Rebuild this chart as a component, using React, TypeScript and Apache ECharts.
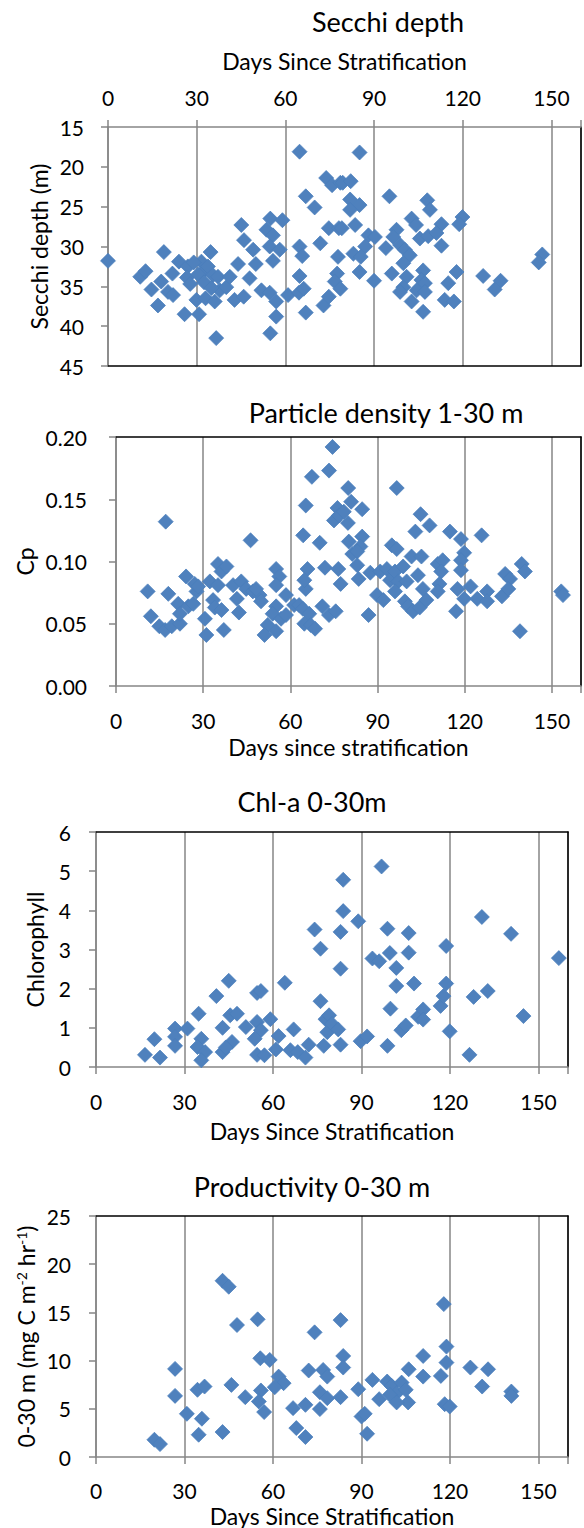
import React, { useEffect, useRef } from "react";
import * as echarts from "echarts";

// ---------- data (days since stratification, value) ----------
const dayTicks = [0, 30, 60, 90, 120, 150];

const secchiData: number[][] = [
  [0, 31.8], [10.9, 33.8], [12.7, 33.1], [18.9, 30.7], [14.7, 35.4], [16.9, 37.4], [18.0, 34.4],
  [20.3, 35.7], [22, 36.1], [21.8, 33.4], [24, 31.9], [27, 32.5], [26.7, 33.9], [27.8, 34.7],
  [25.9, 38.5], [30.8, 38.5], [29.9, 36.7], [31.6, 31.9], [34.7, 30.7], [32.1, 33.2], [33.8, 32.5],
  [35.5, 33.6], [37.2, 33.8], [33, 36.5], [36.1, 36.9], [37.8, 35.5], [40, 35.1], [41.2, 33.8],
  [36.6, 41.5], [42.8, 36.7], [44, 32.2], [45.9, 36.3], [47.9, 34.0], [45.1, 27.3], [46, 29.2],
  [49.1, 30.4], [50, 32.2], [51.9, 35.5], [54.7, 35.8], [56.9, 36.9], [56.9, 38.8], [54.9, 40.9],
  [53.6, 27.9], [54.9, 26.5], [55.8, 28.6], [59, 26.7], [54.7, 30.0], [55.8, 31.8], [58.1, 30.4],
  [60.9, 36.1], [64.6, 35.8], [64.8, 33.7], [66.2, 35.3], [66.9, 38.3], [64.8, 30.0], [65.7, 31.2],
  [64.8, 18.1], [66.9, 23.7], [69.9, 25.1], [71.8, 29.6], [73.8, 21.4], [75.8, 22.3], [78.6, 22.0],
  [74.7, 27.7], [78.1, 27.7], [77.8, 31.3], [72.9, 37.4], [74.7, 36.3], [77.5, 33.4], [76.7, 34.4],
  [78.6, 35.3], [30.5, 33.5], [32.5, 34.5], [35, 35.2], [29, 32],
  [85.1, 18.2], [79.4, 22.0], [82.1, 21.8], [81.9, 24.1], [85.1, 24.8], [81.9, 25.4], [95.2, 23.7],
  [108, 24.2], [108.9, 25.4], [119.9, 26.3], [118.8, 27.2], [102.7, 26.5], [104.2, 27.3], [112.8, 27.2],
  [79.1, 27.7], [83.6, 27.3], [88.1, 28.6], [90.3, 28.8], [97.6, 27.9], [96.5, 28.8], [105.5, 29.0],
  [108.3, 28.7], [111.1, 28.3], [94, 30.2], [98.8, 29.8], [100.4, 30.4], [102.1, 31.1], [99.9, 32.1],
  [87, 30.0], [83, 30.9], [85.5, 31.3], [112.8, 29.9], [85.1, 33.2], [96, 33.4], [90, 34.3],
  [101, 33.8], [99.9, 35.1], [106.6, 33.0], [106, 34.2], [107.2, 34.6], [98.8, 35.7], [102.7, 36.9],
  [104.4, 35.5], [107.2, 35.7], [106.6, 38.2], [115.1, 34.6], [117.9, 33.2], [113.9, 36.7], [117, 36.9],
  [126.9, 33.7], [132.8, 34.3], [130.8, 35.4], [146.9, 31.0], [145.7, 32.0],
];

const cpData: number[][] = [
  [17.1, 0.132], [46.3, 0.117], [10.9, 0.076], [12, 0.056], [18, 0.074], [14.9, 0.048], [16.9, 0.045],
  [19.2, 0.048], [22, 0.05], [21.4, 0.066], [22, 0.058], [24.9, 0.064], [26.6, 0.066], [27.7, 0.076],
  [24.1, 0.088], [27.1, 0.082], [28.3, 0.08], [30.6, 0.054], [31.1, 0.041], [32.3, 0.084], [33.4, 0.069],
  [35.1, 0.098], [36.3, 0.092], [38, 0.096], [34, 0.063], [36.3, 0.061], [37.1, 0.045], [35.1, 0.081],
  [40.3, 0.081], [43.1, 0.084], [41.6, 0.07], [42.3, 0.059], [44.8, 0.078], [47.1, 0.076], [49.4, 0.073],
  [48.2, 0.078], [49.9, 0.068], [55.1, 0.094], [56.2, 0.088], [55.1, 0.081], [58.5, 0.073], [55.1, 0.064],
  [53.9, 0.058], [56.8, 0.054], [58.5, 0.057], [52.2, 0.049], [51.1, 0.041], [55.1, 0.044], [61.3, 0.065],
  [63, 0.065], [65.3, 0.078], [64.3, 0.062], [66.5, 0.058], [64.8, 0.05], [67, 0.049], [68.5, 0.046],
  [65.9, 0.094], [64.8, 0.085], [64.4, 0.121], [65.3, 0.145], [67.4, 0.168], [73.3, 0.173], [74.5, 0.192],
  [70.1, 0.115], [71.9, 0.095], [71, 0.064], [73.3, 0.057], [75.6, 0.06], [76.2, 0.143], [75, 0.133],
  [76.7, 0.137], [76.5, 0.094], [77.3, 0.082],
  [79.9, 0.159], [80.9, 0.148], [78.4, 0.14], [79.8, 0.131], [84.7, 0.142], [96.6, 0.159], [80.1, 0.116],
  [84.7, 0.12], [84.1, 0.112], [81.3, 0.106], [83, 0.108], [83, 0.097], [83.5, 0.086], [87.5, 0.091],
  [86.9, 0.057], [89.8, 0.073], [92, 0.069], [90.9, 0.092], [93.2, 0.094], [94.3, 0.085], [96, 0.092],
  [98.8, 0.096], [97.1, 0.084], [94.9, 0.113], [96.6, 0.11], [96, 0.076], [99.4, 0.068], [100.5, 0.064],
  [102.2, 0.06], [104.5, 0.063], [106.8, 0.069], [100, 0.084], [101.7, 0.104], [105.1, 0.104], [103.9, 0.089],
  [105.6, 0.078], [103, 0.124], [104.8, 0.138], [107.9, 0.129], [110.7, 0.098], [112.4, 0.101], [111.9, 0.092],
  [111.3, 0.082], [110.7, 0.076], [114.9, 0.124], [118.7, 0.118], [119.8, 0.107], [118.7, 0.101], [118.7, 0.093],
  [117, 0.06], [117.5, 0.078], [119.8, 0.07], [122, 0.08], [125.8, 0.121], [124.3, 0.07], [127.7, 0.076],
  [127.7, 0.068], [132.8, 0.072], [133.9, 0.09], [135.6, 0.086], [135, 0.078], [139.6, 0.098], [140.7, 0.092],
  [139, 0.044], [153.2, 0.076], [153.8, 0.073],
];

const chlData: number[][] = [
  [16.6, 0.31], [19.8, 0.71], [21.7, 0.24], [26.8, 0.98], [26.8, 0.77], [26.8, 0.54], [31, 0.98],
  [34.8, 1.36], [35.7, 0.72], [34.4, 0.51], [37, 0.38], [35.7, 0.17], [40.8, 1.81], [42.9, 1.0],
  [45, 2.2], [45.5, 1.32], [47.8, 1.36], [42.9, 0.38], [46.1, 0.64], [44, 0.5], [50.8, 1.02],
  [54.6, 1.89], [55.9, 1.94], [54.6, 1.15], [55.9, 0.94], [53.8, 0.72], [59.1, 1.22], [54.6, 0.31],
  [57.1, 0.3], [61.9, 0.79], [64, 2.15], [61, 0.45], [67, 0.96], [65.9, 0.43], [68.4, 0.38],
  [71, 0.24], [72.1, 0.57], [74.1, 3.51], [76.1, 3.02], [76.1, 1.68], [77.2, 0.54], [77.8, 1.22],
  [79, 1.32], [78.4, 0.89], [80, 1.1],
  [83.8, 4.78], [96.8, 5.12], [83.8, 3.98], [82.9, 3.45], [88.9, 3.72], [82.9, 2.51], [82.1, 0.96],
  [82.9, 0.57], [89.7, 0.66], [91.9, 0.78], [93.7, 2.77], [96, 2.7], [98.8, 3.53], [99.6, 2.91],
  [101.8, 2.53], [106, 3.42], [106, 2.92], [101.8, 2.07], [107.8, 2.13], [98.8, 0.54], [99.8, 1.49],
  [103.5, 0.94], [105, 1.06], [109.2, 1.28], [110.9, 1.47], [110.9, 1.21], [116.8, 1.56], [117.8, 1.81],
  [118.7, 2.13], [118.7, 3.09], [119.9, 0.91], [126.6, 0.31], [128, 1.79], [132.8, 1.94], [130.8, 3.83],
  [140.7, 3.4], [144.9, 1.3], [156.9, 2.78],
];

const prodData: number[][] = [
  [19.8, 1.79], [21.7, 1.34], [26.8, 9.14], [26.8, 6.34], [30.8, 4.48], [34.4, 6.97], [36.8, 7.31],
  [35.9, 3.97], [34.8, 2.31], [42.9, 2.59], [42.9, 18.28], [45, 17.66], [47.8, 13.69], [45.9, 7.48],
  [50.6, 6.21], [54.8, 14.28], [55.7, 10.24], [58.9, 10.07], [55.9, 6.9], [55.2, 5.76], [57, 4.66],
  [61.9, 8.34], [63.6, 7.66], [60.6, 7.24], [66.8, 5.07], [71, 5.41], [67.9, 3.0], [71, 2.07],
  [72.1, 8.97], [74.1, 12.93], [77, 9.03], [78.4, 8.34], [75.9, 6.72], [78.4, 6.1], [75.9, 4.97],
  [82.9, 14.2], [83.8, 10.48], [83.8, 9.28], [82.9, 6.21], [88.9, 7.03], [90, 4.2], [91.1, 4.48],
  [91.9, 2.41], [93.7, 8.0], [96, 6.0], [98.7, 7.83], [100.2, 7.38], [101.9, 6.62], [103.6, 7.72],
  [105, 6.97], [105.8, 5.66], [99.6, 6.45], [101.9, 5.66], [106, 9.1], [110.9, 10.48], [110.9, 8.34],
  [116.9, 8.41], [117.9, 15.86], [118.8, 11.45], [118.8, 9.79], [118.2, 5.48], [119.9, 5.24],
  [126.9, 9.28], [132.9, 9.1], [130.9, 7.31], [140.8, 6.79], [140.8, 6.34],
];

const titles = ["Secchi depth", "Particle density 1-30 m", "Chl-a 0-30m", "Productivity 0-30 m"];
const xNames = ["Days Since Stratification", "Days since stratification", "Days Since Stratification", "Days Since Stratification"];
const yNames = ["Secchi depth (m)", "Cp", "Chlorophyll", "0-30 m (mg C m{sup|-2} hr{sup|-1})"];

// ---------- styling ----------
const FONT = 'Lato, "Open Sans", sans-serif';
const GRAY = "#868686";
const TICK_FS = 21;
const NAME_FS = 23;
const TITLE_FS = 27;

const grids = [
  { left: 108, top: 127, width: 473, height: 239 },
  { left: 116, top: 437, width: 470, height: 249 },
  { left: 96, top: 832, width: 472, height: 235 },
  { left: 96, top: 1216, width: 472, height: 241 },
];

const yRanges = [
  { min: 15, max: 45, interval: 5, inverse: true, fmt: (v: number) => String(v) },
  { min: 0, max: 0.2, interval: 0.05, inverse: false, fmt: (v: number) => v.toFixed(2) },
  { min: 0, max: 6, interval: 1, inverse: false, fmt: (v: number) => String(v) },
  { min: 0, max: 25, interval: 5, inverse: false, fmt: (v: number) => String(v) },
];

const xLabelMargin = [19, 23, 23, 22];
const xNameGap = [55, 49, 52, 47];
const yLabelMargin = [24, 29, 25, 25];
const yNameGap = [58, 80, 50, 59];
const titlePos = [
  [388, 21],
  [386, 412],
  [312, 801],
  [312, 1186],
];

const seriesData = [secchiData, cpData, chlData, prodData];

function buildOption() {
  const xAxis: any[] = [];
  const yAxis: any[] = [];
  const series: any[] = [];
  grids.forEach((g, i) => {
    const top = i === 0;
    xAxis.push({
      gridIndex: i,
      type: "value",
      position: top ? "top" : "bottom",
      min: 0,
      max: 160,
      interval: 30,
      name: xNames[i],
      nameLocation: "middle",
      nameGap: xNameGap[i],
      nameMoveOverlap: false,
      nameTextStyle: { fontFamily: FONT, fontSize: NAME_FS, color: "#000" },
      axisLine: { show: true, onZero: false, lineStyle: { color: GRAY, width: 1.5 } },
      axisTick: { show: true, length: 7, lineStyle: { color: GRAY, width: 1.5 } },
      axisLabel: {
        fontFamily: FONT,
        fontSize: TICK_FS,
        lineHeight: 22,
        color: "#000",
        margin: xLabelMargin[i],
        formatter: (v: number) => (dayTicks.indexOf(v) >= 0 ? String(v) : ""),
      },
      splitLine: { show: true, lineStyle: { color: GRAY, width: 1.5 } },
    });
    xAxis.push({
      gridIndex: i,
      type: "value",
      position: top ? "bottom" : "top",
      min: 0,
      max: 160,
      interval: 30,
      axisLine: { show: true, onZero: false, lineStyle: { color: "#000", width: 1.5 } },
      axisTick: { show: false },
      axisLabel: { show: false },
      splitLine: { show: false },
    });
    const yr = yRanges[i];
    yAxis.push({
      gridIndex: i,
      type: "value",
      position: "left",
      min: yr.min,
      max: yr.max,
      interval: yr.interval,
      inverse: yr.inverse,
      name: yNames[i],
      nameLocation: "middle",
      nameRotate: 90,
      nameGap: yNameGap[i],
      nameMoveOverlap: false,
      nameTextStyle: {
        fontFamily: FONT,
        fontSize: NAME_FS,
        color: "#000",
        rich: {
          sup: { fontFamily: FONT, fontSize: 14, color: "#000", verticalAlign: "top", lineHeight: 14 },
        },
      },
      axisLine: { show: true, onZero: false, lineStyle: { color: GRAY, width: 1.5 } },
      axisTick: { show: true, length: 7, lineStyle: { color: GRAY, width: 1.5 } },
      axisLabel: { fontFamily: FONT, fontSize: TICK_FS, color: "#000", margin: yLabelMargin[i], formatter: yr.fmt },
      splitLine: { show: false },
    });
    yAxis.push({
      gridIndex: i,
      type: "value",
      position: "right",
      min: yr.min,
      max: yr.max,
      interval: yr.interval,
      inverse: yr.inverse,
      axisLine: { show: true, onZero: false, lineStyle: { color: "#000", width: 1.5 } },
      axisTick: { show: false },
      axisLabel: { show: false },
      splitLine: { show: false },
    });
    series.push({
      type: "scatter",
      xAxisIndex: i * 2,
      yAxisIndex: i * 2,
      data: seriesData[i],
      symbol: "diamond",
      symbolSize: 15,
      itemStyle: { color: "#4F81BD", borderColor: "#4A7EBB", borderWidth: 0.75, opacity: 1 },
      z: 5,
    });
  });

  const graphic = titles.map((t, i) => ({
    type: "text",
    x: titlePos[i][0],
    y: titlePos[i][1],
    style: {
      text: t,
      fontFamily: FONT,
      fontSize: TITLE_FS,
      fill: "#000",
      align: "center",
      verticalAlign: "middle",
    },
  }));

  return {
    animation: false,
    backgroundColor: "#fff",
    grid: grids.map((g) => ({ ...g, containLabel: false })),
    xAxis,
    yAxis,
    series,
    graphic,
  };
}

export default function App() {
  const ref = useRef<HTMLDivElement>(null);
  useEffect(() => {
    if (!ref.current) return;
    const chart = echarts.init(ref.current, undefined, { renderer: "svg" });
    chart.setOption(buildOption() as any);
    return () => chart.dispose();
  }, []);
  return (
    <div
      ref={ref}
      style={{ position: "absolute", left: 0, top: 0, width: 584, height: 1528, background: "#fff" }}
    />
  );
}
